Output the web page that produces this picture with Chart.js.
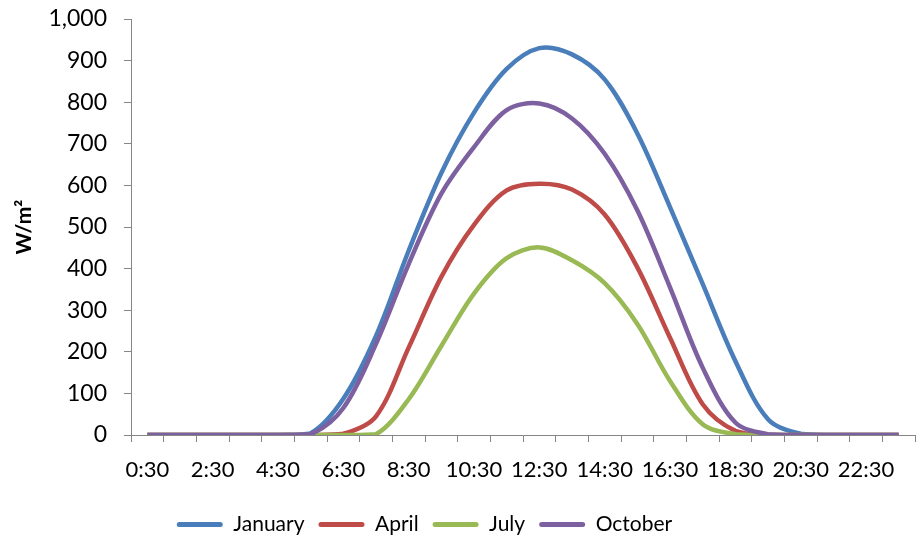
<!DOCTYPE html>
<html>
<head>
<meta charset="utf-8">
<script src="https://cdn.jsdelivr.net/npm/chart.js@4/dist/chart.umd.min.js"></script>
<style>
  html, body { margin: 0; padding: 0; background: #fff; }
  #wrap { width: 917px; height: 542px; }
</style>
</head>
<body>
<div id="wrap"><canvas id="chart"></canvas></div>
<script>
const hours = ["0:30", "1:30", "2:30", "3:30", "4:30", "5:30", "6:30", "7:30", "8:30", "9:30", "10:30", "11:30",
  "12:30", "13:30", "14:30", "15:30", "16:30", "17:30", "18:30", "19:30", "20:30", "21:30", "22:30", "23:30"];

const january = [0, 0, 0, 0, 0, 4, 87, 238, 443, 630, 775, 880, 930, 915, 855, 725, 548, 363, 178, 38, 3, 0, 0, 0];
const april = [0, 0, 0, 0, 0, 0, 3, 45, 210, 380, 505, 588, 604, 590, 530, 403, 234, 74, 10, 0, 0, 0, 0, 0];
const july = [0, 0, 0, 0, 0, 0, 0, 2, 86, 214, 340, 425, 451, 420, 365, 267, 130, 26, 2, 0, 0, 0, 0, 0];
const october = [0, 0, 0, 0, 0, 2, 65, 219, 411, 580, 692, 781, 797, 761, 676, 540, 355, 162, 30, 2, 0, 0, 0, 0];

const FONT = "Lato, 'Open Sans', sans-serif";
const AXIS_GREY = "#868686";

function series(label, data, color, order) {
  return {
    label: label,
    data: data,
    borderColor: color,
    backgroundColor: color,
    borderWidth: 4.5,
    tension: 0.33,
    pointRadius: 0,
    fill: false,
    order: order
  };
}

// nudge the legend to where Excel placed it
const legendShift = {
  id: "legendShift",
  afterLayout(chart) {
    chart.legend.left -= 39;
    chart.legend.right -= 39;
    chart.legend.top += 3;
    chart.legend.bottom += 3;
  }
};

new Chart(document.getElementById("chart").getContext("2d"), {
  type: "line",
  data: {
    labels: hours,
    datasets: [
      series("January", january, "#4a7ebb", 4),
      series("April", april, "#be4b48", 3),
      series("July", july, "#98b954", 2),
      series("October", october, "#7d60a0", 1)
    ]
  },
  options: {
    animation: false,
    responsive: true,
    maintainAspectRatio: false,
    layout: { padding: { left: 12, right: 2, top: 19, bottom: 0 } },
    plugins: {
      tooltip: { enabled: false },
      legend: {
        position: "bottom",
        labels: {
          color: "#000",
          font: { family: FONT, size: 21 },
          boxWidth: 46,
          boxHeight: 5,
          padding: 14,
          useBorderRadius: true,
          borderRadius: 2.5,
          sort: (a, b) => a.datasetIndex - b.datasetIndex,
          generateLabels: (chart) =>
            Chart.defaults.plugins.legend.labels.generateLabels(chart).map(l => ({ ...l, lineWidth: 0 }))
        }
      }
    },
    scales: {
      x: {
        offset: true,
        grid: { offset: true, drawOnChartArea: false, drawTicks: true, tickLength: 7, color: AXIS_GREY },
        border: { color: AXIS_GREY, width: 1 },
        ticks: {
          autoSkip: false,
          maxRotation: 0,
          padding: 15,
          color: "#000",
          font: { family: FONT, size: 22 },
          callback: (v, i) => (i % 2 === 0 ? hours[i] : "")
        },
        afterFit: (scale) => { scale.height = 62; }
      },
      y: {
        min: 0,
        max: 1000,
        grid: { drawOnChartArea: false, drawTicks: true, tickLength: 7, color: AXIS_GREY },
        border: { color: AXIS_GREY, width: 1 },
        ticks: {
          stepSize: 100,
          padding: 17,
          color: "#000",
          font: { family: FONT, size: 23 },
          callback: (v) => v.toLocaleString("en-US")
        },
        title: {
          display: true,
          text: "W/m²",
          color: "#000",
          font: { family: FONT, size: 21, weight: "bold" },
          padding: { top: 0, bottom: 0 }
        },
        afterFit: (scale) => {
          scale.width = 119;
          scale.paddingTop = 0;
          scale.paddingBottom = 0;
        }
      }
    }
  },
  plugins: [legendShift]
});
</script>
</body>
</html>
